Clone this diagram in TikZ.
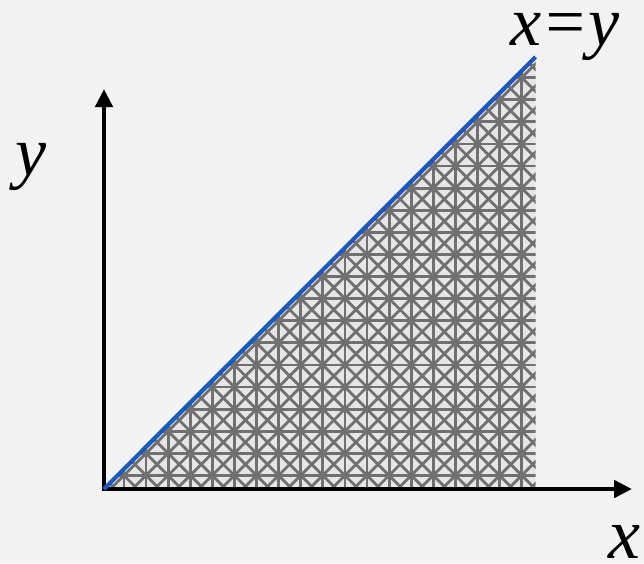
\documentclass[tikz,border=0pt]{standalone}
\usepackage{fontspec}
\newfontfamily\tmsit{Liberation Serif Italic}
\usetikzlibrary{arrows.meta}
\definecolor{bgc}{RGB}{242,242,242}
\definecolor{cellc}{RGB}{230,230,230}
\definecolor{hatchc}{RGB}{112,112,112}
\definecolor{bluec}{RGB}{28,88,190}
\tikzset{
  axis/.style={line width=4.7pt, -{Triangle[length=18pt,width=17pt]}},
  hatch/.style={hatchc, line width=2.8pt},
  lbl/.style={font=\tmsit\fontsize{70}{70}\selectfont, inner sep=0pt, anchor=base}
}
\begin{document}
\begin{tikzpicture}[x=1pt,y=-1pt]
\fill[bgc] (0,0) rectangle (644,563);
\useasboundingbox (0,0) rectangle (644,563);
% triangle region
\coordinate (O) at (104,489);
\coordinate (T) at (535.5,57);
\coordinate (R) at (535.5,489);
\fill[cellc] (O) -- (T) -- (R) -- cycle;
\begin{scope}
\clip (O) -- (T) -- (R) -- cycle;
\foreach \i in {0,...,20} \draw[hatch] ({101.8+22.1*\i},40) -- ++(0,470);
\foreach \j in {0,...,21} \draw[hatch] (90,{55.5+22.1*\j}) -- ++(470,0);
\foreach \m in {-20,...,21} \draw[hatch] ({46.3+22.1*\m+30},30) -- ({46.3+22.1*\m+510},510);
\foreach \m in {18,...,41} \draw[hatch] ({157.3+22.1*\m-30},30) -- ({157.3+22.1*\m-510},510);
\end{scope}
% axes
\coordinate (ytip) at (104,89);
\coordinate (xtip) at (632,489);
\coordinate (ybase) at (104,491.35);
\coordinate (xbase) at (101.65,489);
\draw[axis] (ybase) -- (ytip);
\draw[axis] (xbase) -- (xtip);
% diagonal
\draw[bluec, line width=4.2pt] (O) -- (T);
% labels
\node[lbl] (lxy) at (565,45) {x=y};
\node[lbl] (ly) at (31,175) {y};
\node[lbl, font=\tmsit\fontsize{72}{72}\selectfont] (lx) at (624,558) {x};
\end{tikzpicture}
\end{document}
